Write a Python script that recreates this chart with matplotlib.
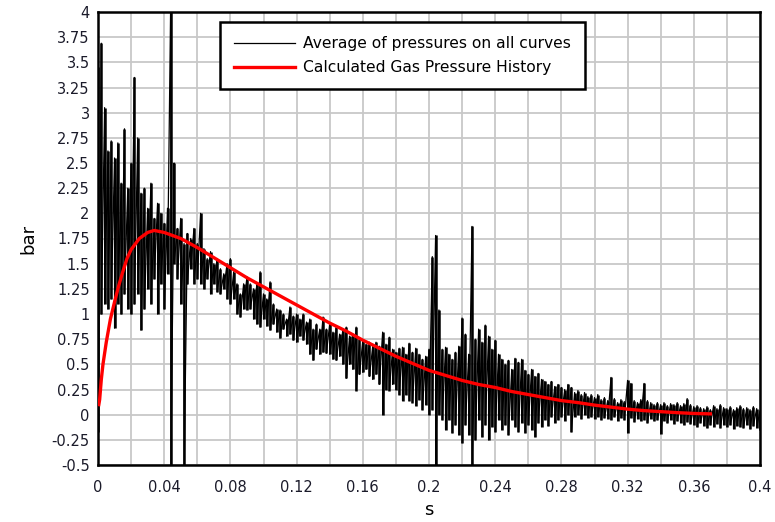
import matplotlib
matplotlib.use("Agg")
import matplotlib.pyplot as plt
import numpy as np

# time base of the measured trace (s), one min/max pair every 2 ms
t_meas = np.round(np.arange(0, 0.4001, 0.002), 3)

# upper envelope of the averaged pressure trace (bar)
p_hi = [
    3.45, 3.69, 3.05, 2.62, 2.72, 2.55, 2.70, 2.30, 2.84, 2.25,
    2.50, 3.35, 2.75, 2.20, 2.25, 2.05, 2.30, 1.95, 2.10, 2.00,
    1.90, 2.05, 4.20, 2.50, 1.85, 1.95, 1.70, 1.80, 1.75, 1.85,
    1.70, 2.00, 1.65, 1.55, 1.62, 1.50, 1.55, 1.45, 1.40, 1.50,
    1.55, 1.42, 1.30, 1.20, 1.30, 1.37, 1.30, 1.25, 1.30, 1.42,
    1.20, 1.15, 1.32, 1.10, 1.05, 1.04, 1.00, 0.95, 1.07, 0.98,
    1.00, 0.95, 1.00, 0.92, 0.95, 0.85, 0.90, 0.85, 0.97, 0.85,
    0.90, 0.82, 0.87, 0.80, 0.85, 0.87, 0.78, 0.80, 0.87, 0.75,
    0.74, 0.70, 0.72, 0.68, 0.72, 0.68, 0.82, 0.70, 0.77, 0.65,
    0.62, 0.66, 0.67, 0.60, 0.71, 0.62, 0.66, 0.60, 0.55, 0.58,
    0.65, 1.57, 1.78, 1.04, 0.65, 0.67, 0.60, 0.55, 0.62, 0.68,
    0.96, 0.80, 0.60, 1.87, 0.75, 0.85, 0.72, 0.89, 0.78, 0.65,
    0.74, 0.60, 0.55, 0.50, 0.54, 0.45, 0.56, 0.52, 0.55, 0.44,
    0.40, 0.45, 0.38, 0.41, 0.35, 0.33, 0.30, 0.33, 0.28, 0.30,
    0.27, 0.25, 0.30, 0.27, 0.22, 0.24, 0.20, 0.22, 0.18, 0.20,
    0.17, 0.20, 0.15, 0.17, 0.14, 0.37, 0.16, 0.12, 0.15, 0.13,
    0.34, 0.31, 0.14, 0.12, 0.15, 0.31, 0.14, 0.12, 0.10, 0.12,
    0.10, 0.12, 0.09, 0.11, 0.10, 0.12, 0.09, 0.11, 0.16, 0.10,
    0.08, 0.09, 0.07, 0.06, 0.08, 0.05, 0.09, 0.06, 0.10, 0.07,
    0.06, 0.08, 0.05, 0.07, 0.09, 0.06, 0.07, 0.05, 0.08, 0.06,
    0.04,
]

# lower envelope of the same trace (bar)
p_lo = [
    -0.17, 1.00, 1.10, 1.05, 1.15, 0.86, 1.10, 1.00, 1.20, 1.05,
    1.00, 1.10, 1.20, 0.84, 1.05, 1.25, 1.10, 1.35, 1.00, 1.30,
    1.05, 1.40, -0.60, 1.50, 1.35, 1.10, -0.60, 1.30, 1.45, 1.30,
    1.35, 1.30, 1.25, 1.35, 1.20, 1.30, 1.22, 1.20, 1.25, 1.15,
    1.10, 1.15, 1.00, 0.97, 1.05, 1.04, 1.05, 0.95, 0.90, 0.87,
    0.95, 0.88, 0.84, 0.90, 0.82, 0.76, 0.85, 0.78, 0.80, 0.74,
    0.72, 0.78, 0.74, 0.70, 0.60, 0.54, 0.65, 0.60, 0.62, 0.61,
    0.60, 0.55, 0.54, 0.58, 0.50, 0.36, 0.50, 0.45, 0.24, 0.40,
    0.42, 0.45, 0.38, 0.35, 0.40, 0.30, 0.00, 0.25, 0.24, 0.30,
    0.25, 0.20, 0.14, 0.20, 0.14, 0.12, 0.09, 0.15, 0.05, 0.10,
    0.00, 0.05, -0.50, 0.00, -0.05, -0.15, -0.05, -0.18, -0.10, -0.20,
    -0.28, -0.10, -0.20, -0.50, -0.25, -0.05, -0.22, -0.10, -0.25, -0.12,
    -0.17, -0.05, -0.15, -0.10, -0.20, -0.05, -0.12, -0.17, -0.08, -0.18,
    -0.10, -0.15, -0.22, -0.08, -0.12, -0.05, -0.11, -0.02, -0.08, -0.05,
    -0.02, -0.06, 0.00, -0.17, -0.02, 0.00, -0.04, 0.00, -0.03, -0.02,
    -0.04, -0.02, -0.05, -0.03, -0.04, -0.05, -0.02, -0.06, -0.03, -0.05,
    -0.18, -0.03, -0.07, -0.04, -0.06, -0.05, -0.08, -0.04, -0.06, -0.05,
    -0.19, -0.06, -0.08, -0.05, -0.09, -0.06, -0.08, -0.10, -0.07, -0.09,
    -0.10, -0.12, -0.08, -0.11, -0.13, -0.10, -0.12, -0.09, -0.13, -0.10,
    -0.12, -0.10, -0.14, -0.11, -0.12, -0.13, -0.10, -0.14, -0.11, -0.13,
    -0.15,
]

# calculated gas pressure history
t_calc = [0.0005, 0.001, 0.002, 0.003, 0.005, 0.0075, 0.01, 0.0125, 0.015, 0.0175,
          0.02, 0.025, 0.03, 0.034, 0.04, 0.05, 0.06, 0.07, 0.08, 0.09,
          0.10, 0.11, 0.12, 0.13, 0.14, 0.15, 0.16, 0.17, 0.18, 0.19,
          0.20, 0.21, 0.22, 0.23, 0.24, 0.25, 0.26, 0.27, 0.28, 0.29,
          0.30, 0.31, 0.32, 0.33, 0.34, 0.35, 0.36, 0.37]
p_calc = [0.10, 0.15, 0.35, 0.50, 0.72, 0.95, 1.12, 1.28, 1.42, 1.55,
          1.64, 1.75, 1.81, 1.83, 1.81, 1.75, 1.66, 1.56, 1.46, 1.36,
          1.27, 1.18, 1.09, 1.00, 0.91, 0.83, 0.74, 0.66, 0.58, 0.51,
          0.44, 0.39, 0.34, 0.30, 0.27, 0.23, 0.20, 0.17, 0.14, 0.12,
          0.095, 0.075, 0.055, 0.04, 0.03, 0.02, 0.012, 0.008]

x_ticks = [0, 0.04, 0.08, 0.12, 0.16, 0.2, 0.24, 0.28, 0.32, 0.36, 0.4]
y_ticks = [-0.5, -0.25, 0, 0.25, 0.5, 0.75, 1, 1.25, 1.5, 1.75, 2,
           2.25, 2.5, 2.75, 3, 3.25, 3.5, 3.75, 4]

plt.rcParams['font.family'] = ['DejaVu Sans']

fig = plt.figure(figsize=(7.75, 5.22), dpi=100)
ax = fig.add_axes([98 / 775, 57 / 522, 662 / 775, 453 / 522])

# measured trace: min/max column at each sample, joined as a zig-zag
ax.vlines(t_meas, p_lo, p_hi, color='black', linewidth=1.8, zorder=3)
xs = np.repeat(t_meas, 2)
ys = np.column_stack([p_hi, p_lo]).ravel()
ax.plot(xs, ys, color='black', linewidth=0.9,
        label='Average of pressures on all curves', zorder=3)
ax.plot(t_calc, p_calc, color='red', linewidth=2.4,
        label='Calculated Gas Pressure History', zorder=4)

ax.set_xlim(0, 0.4)
ax.set_ylim(-0.5, 4)
ax.set_xticks(x_ticks)
ax.set_xticklabels(['%g' % v for v in x_ticks])
ax.set_xticks(np.arange(0.02, 0.4, 0.04), minor=True)
ax.set_yticks(y_ticks)
ax.set_yticklabels(['%g' % v for v in y_ticks])
ax.grid(True, which='both', color='#c8c8c8', linewidth=1.3, zorder=0)
ax.set_axisbelow(True)
ax.tick_params(which='both', length=0)
ax.tick_params(axis='x', pad=11, labelsize=10.5, labelcolor='#1b1b2a')
ax.tick_params(axis='y', pad=6, labelsize=10.5, labelcolor='#1b1b2a')
for sp in ax.spines.values():
    sp.set_linewidth(1.8)
    sp.set_color('black')

ax.set_xlabel('s', fontsize=13, labelpad=4)
ax.set_ylabel('bar', fontsize=13, labelpad=10)

leg = ax.legend(loc='upper left', bbox_to_anchor=(220 / 775, 500 / 522),
                bbox_transform=fig.transFigure, borderaxespad=0,
                fancybox=False, framealpha=1, edgecolor='black',
                fontsize=11.2, handlelength=3.9, handletextpad=0.55,
                labelspacing=0.6, borderpad=0.9)
leg.get_frame().set_linewidth(1.8)
leg.set_zorder(10)

fig.savefig('out.png', dpi=100)
